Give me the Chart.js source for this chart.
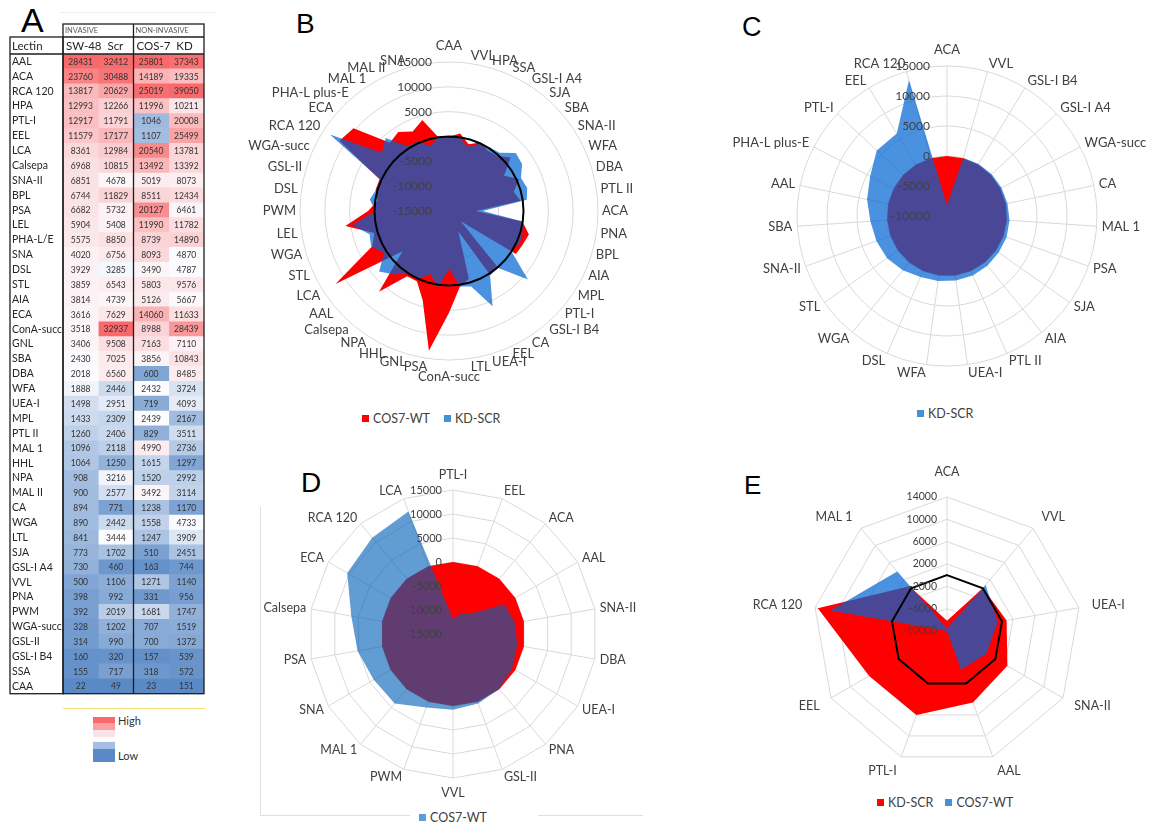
<!DOCTYPE html>
<html lang="en">
<head>
<meta charset="UTF-8">
<title>Lectin array comparison</title>
<script src="https://cdn.jsdelivr.net/npm/chart.js@4.4.1/dist/chart.umd.min.js"></script>
<style>
  body { margin: 0; background: #fff; font-family: Lato, "Liberation Sans", sans-serif; }
  #page { position: relative; width: 1156px; height: 827px; overflow: hidden; background: #fff; }
  .box { position: absolute; }
  .letter { position: absolute; font-family: "Liberation Sans", Arial, sans-serif; color: #000; line-height: 1; }
  .legend { position: absolute; font-size: 12.5px; color: #404040; white-space: nowrap; display: flex; align-items: center; }
  .legend i { display: inline-block; width: 7px; height: 7px; margin-right: 4px; }
  .rule { position: absolute; }
  .scale-key { position: absolute; left: 93px; width: 22px; }
</style>
</head>
<body>
<div id="page">
  <div class="rule" style="left:60px;top:12px;width:155px;height:1px;background:#ececec"></div>
  <div class="letter" style="left:21px;top:3px;font-size:34px">A</div>
  <div class="box" style="left:0;top:0;width:210px;height:700px"><canvas id="heat"></canvas></div>
  <div class="rule" style="left:63px;top:708px;width:142px;height:1px;background:#f3e27a"></div>
  <div class="scale-key" style="top:717px;height:6px;background:#f8696b"></div>
  <div class="scale-key" style="top:723px;height:7px;background:#f9a0a2"></div>
  <div class="scale-key" style="top:730px;height:7px;background:#fbe3e5"></div>
  <div class="scale-key" style="top:737px;height:5px;background:#fbfbfe"></div>
  <div class="scale-key" style="top:742px;height:7px;background:#a5bfe2"></div>
  <div class="scale-key" style="top:749px;height:13px;background:#5a8ac6"></div>
  <div class="legend" style="left:118px;top:714px;font-size:11px;color:#333">High</div>
  <div class="legend" style="left:118px;top:749px;font-size:11px;color:#333">Low</div>

  <div class="letter" style="left:296px;top:10px;font-size:28px">B</div>
  <div class="box" id="boxB"><canvas id="radarB"></canvas></div>
  <div class="legend" style="left:362px;top:411px"><i style="background:#ff0000"></i>COS7-WT<i style="background:#4492d6;margin-left:14px"></i>KD-SCR</div>

  <div class="letter" style="left:742px;top:14px;font-size:27px">C</div>
  <div class="box" id="boxC"><canvas id="radarC"></canvas></div>
  <div class="legend" style="left:917px;top:406px"><i style="background:#4492d6"></i>KD-SCR</div>

  <div class="rule" style="left:260px;top:507px;width:1px;height:308px;background:#e0e0e0"></div>
  <div class="rule" style="left:260px;top:815px;width:150px;height:1px;background:#e0e0e0"></div>
  <div class="rule" style="left:538px;top:815px;width:105px;height:1px;background:#e0e0e0"></div>
  <div class="letter" style="left:301px;top:469px;font-size:28px">D</div>
  <div class="box" id="boxD"><canvas id="radarD"></canvas></div>
  <div class="legend" style="left:419px;top:810px"><i style="background:#5f9dd6"></i>COS7-WT</div>

  <div class="letter" style="left:744px;top:472px;font-size:26px">E</div>
  <div class="box" id="boxE"><canvas id="radarE"></canvas></div>
  <div class="legend" style="left:877px;top:795px"><i style="background:#ff0000"></i>KD-SCR<i style="background:#4492d6;margin-left:12px"></i>COS7-WT</div>
</div>

<script>
// ---------- panel A: lectin signal table ----------
const lectins = ['AAL', 'ACA', 'RCA 120', 'HPA', 'PTL-I', 'EEL', 'LCA', 'Calsepa', 'SNA-II', 'BPL',
  'PSA', 'LEL', 'PHA-L/E', 'SNA', 'DSL', 'STL', 'AIA', 'ECA', 'ConA-succ', 'GNL',
  'SBA', 'DBA', 'WFA', 'UEA-I', 'MPL', 'PTL II', 'MAL 1', 'HHL', 'NPA', 'MAL II',
  'CA', 'WGA', 'LTL', 'SJA', 'GSL-I A4', 'VVL', 'PNA', 'PWM', 'WGA-succ', 'GSL-II',
  'GSL-I B4', 'SSA', 'CAA'];
const sw48 = [28431, 23760, 13817, 12993, 12917, 11579, 8361, 6968, 6851, 6744,
  6682, 5904, 5575, 4020, 3929, 3859, 3814, 3616, 3518, 3406,
  2430, 2018, 1888, 1498, 1433, 1260, 1096, 1064, 908, 900,
  894, 890, 841, 773, 730, 500, 398, 392, 328, 314,
  160, 155, 22];
const scr = [32412, 30488, 20629, 12266, 11791, 17177, 12984, 10815, 4678, 11829,
  5732, 5408, 8850, 6756, 3285, 6543, 4739, 7629, 32937, 9508,
  7025, 6560, 2446, 2951, 2309, 2406, 2118, 1250, 3216, 2577,
  771, 2442, 3444, 1702, 460, 1106, 992, 2019, 1202, 990,
  320, 717, 49];
const cos7 = [25801, 14189, 25019, 11996, 1046, 1107, 20540, 13492, 5019, 8511,
  20127, 11990, 8739, 8093, 3490, 5803, 5126, 14060, 8988, 7163,
  3856, 600, 2432, 719, 2439, 829, 4990, 1615, 1520, 3492,
  1238, 1558, 1247, 510, 163, 1271, 331, 1681, 707, 700,
  157, 318, 23];
const kd = [37343, 19335, 39050, 10211, 20008, 25499, 13781, 13392, 8073, 12434,
  6461, 11782, 14890, 4870, 4787, 9576, 5667, 11633, 28439, 7110,
  10843, 8485, 3724, 4093, 2167, 3511, 2736, 1297, 2992, 3114,
  1170, 4733, 3909, 2451, 744, 1140, 956, 1747, 1519, 1372,
  539, 572, 151];
const groupNames = ['INVASIVE', 'NON-INVASIVE'];
const columnNames = ['SW-48  Scr', 'COS-7  KD'];

// ---------- panel B: all 43 lectins (+ one empty category, as in the source sheet) ----------
const bLabels = ['CAA', 'VVL', 'HPA', 'SSA', 'GSL-I A4', 'SJA', 'SBA', 'SNA-II', 'WFA', 'DBA',
  'PTL II', 'ACA', 'PNA', 'BPL', 'AIA', 'MPL', 'PTL-I', 'GSL-I B4', 'CA', 'EEL',
  'UEA-I', 'LTL', 'ConA-succ', 'PSA', 'GNL', 'HHL', 'NPA', 'Calsepa', 'AAL', 'LCA',
  'STL', 'WGA', 'LEL', 'PWM', 'DSL', 'GSL-II', 'WGA-succ', 'RCA 120', 'ECA', 'PHA-L plus-E',
  'MAL 1', 'MAL II', 'SNA', ''];
const bCos7Wt = [1, 771, -997, 163, -567, -263, 1426, -1832, 544, -1418,
  -431, -9571, -67, 1767, 1312, 1006, -11871, -3, 344, -10472,
  -779, 406, 5470, 13445, 3757, 551, 612, 6524, -2630, 12179,
  1944, 668, 6086, 1289, -439, 386, 379, 11202, 10444, 3164,
  3894, 2592, 4073, 0];
const bKdScr = [75, 25, -1506, -106, 208, 549, 2799, 2489, 937, 1411,
  810, -8175, -26, 443, 680, -104, 6023, 161, 292, 6100,
  837, 341, -3297, 534, -1758, 34, -164, 1889, 3614, 584,
  2223, 1679, 4672, -199, 1101, 280, 232, 13500, 2935, 4427,
  453, 394, -1382, 0];
const bZero = [0, 0, 0, 0, 0, 0, 0, 0, 0, 0, 0, 0, 0, 0, 0, 0, 0, 0, 0, 0, 0, 0,
  0, 0, 0, 0, 0, 0, 0, 0, 0, 0, 0, 0, 0, 0, 0, 0, 0, 0, 0, 0, 0, 0];
const bTicks = [15000, 10000, 5000, -5000, -10000, -15000];

// ---------- panel C: KD-SCR, sorted ----------
const cLabels = ['ACA', 'VVL', 'GSL-I B4', 'GSL-I A4', 'WGA-succ', 'CA', 'MAL 1', 'PSA', 'SJA', 'AIA',
  'PTL II', 'UEA-I', 'WFA', 'DSL', 'WGA', 'STL', 'SNA-II', 'SBA', 'AAL', 'PHA-L plus-E',
  'PTL-I', 'EEL', 'RCA 120'];
const cKdScr = [-8175, 25, 161, 208, 232, 292, 453, 534, 549, 680,
  810, 837, 937, 1101, 1679, 2223, 2489, 2799, 3614, 4427,
  6023, 6100, 13500];
const cBase = [0, 0, 0, 0, 0, 0, 0, 0, 0, 0, 0, 0, 0, 0, 0, 0, 0, 0, 0, 0, 0, 0, 0];
const cTicks = [15000, 10000, 5000, 0, -5000, -10000];

// ---------- panel D: COS7-WT, sorted ----------
const dLabels = ['PTL-I', 'EEL', 'ACA', 'AAL', 'SNA-II', 'DBA', 'UEA-I', 'PNA', 'GSL-II', 'VVL',
  'PWM', 'MAL 1', 'SNA', 'PSA', 'Calsepa', 'ECA', 'RCA 120', 'LCA'];
const dCos7Wt = [-11871, -10472, -9571, -2630, -1832, -1418, -779, -67, 386, 771,
  1289, 3894, 4073, 5200, 6524, 10444, 11202, 12179];
const dBase = [0, 0, 0, 0, 0, 0, 0, 0, 0, 0, 0, 0, 0, 0, 0, 0, 0, 0];
const dTicks = [15000, 10000, 5000, 0, -5000, -10000, -15000];

// ---------- panel E: shared lectins ----------
const eLabels = ['ACA', 'VVL', 'UEA-I', 'SNA-II', 'AAL', 'PTL-I', 'EEL', 'RCA 120', 'MAL 1'];
const eKdScr = [-8175, 25, 837, 2489, 3614, 6023, 6100, 13500, 453];
const eCos7Wt = [-9571, 771, -779, -1832, -2630, -10000, -10000, 11202, 3894];
const eZero = [0, 0, 0, 0, 0, 0, 0, 0, 0];
const eTicks = [14000, 10000, 6000, 2000, -2000, -6000, -10000];

// ---------- heat map colours (3-colour scale per column, like Excel) ----------
const RED = [248, 105, 107], WHITE = [252, 252, 255], BLUE = [90, 138, 198];
function mix(a, b, t) {
  t = Math.max(0, Math.min(1, t));
  return 'rgb(' + a.map((v, i) => Math.round(v + (b[i] - v) * t)).join(',') + ')';
}
function scaleColours(vals) {
  const s = vals.slice().sort((a, b) => a - b);
  const lo = s[0], hi = s[s.length - 1];
  const p = (s.length - 1) / 2;
  const mid = s[Math.floor(p)] + (s[Math.ceil(p)] - s[Math.floor(p)]) * (p - Math.floor(p));
  return vals.map(v => v >= mid ? mix(WHITE, RED, (v - mid) / (hi - mid)) : mix(WHITE, BLUE, (mid - v) / (mid - lo)));
}

const tablePlugin = {
  id: 'table',
  afterDraw(chart) {
    const {ctx, chartArea: a, scales: {x}} = chart;
    ctx.save();
    ctx.font = '8.5px Lato, sans-serif';
    ctx.fillStyle = '#333';
    ctx.textAlign = 'center';
    ctx.textBaseline = 'middle';
    chart.data.datasets.forEach((ds, k) => {
      chart.getDatasetMeta(k).data.forEach((bar, i) => {
        ctx.fillText(ds.values[i], (bar.x + bar.base) / 2, bar.y + 0.5);
      });
    });

    const left = 10, top = 24, hdr = 37;
    const mid = x.getPixelForValue(2);
    ctx.strokeStyle = '#1e1e1e';
    ctx.lineWidth = 1.3;
    ctx.strokeRect(a.left, top, a.right - a.left, a.bottom - top);
    ctx.strokeRect(left, hdr, a.left - left, a.bottom - hdr);
    ctx.beginPath();
    ctx.moveTo(a.left, hdr); ctx.lineTo(a.right, hdr);
    ctx.moveTo(left, a.top); ctx.lineTo(a.right, a.top);
    ctx.moveTo(mid, top); ctx.lineTo(mid, a.bottom);
    ctx.stroke();

    ctx.textAlign = 'left';
    ctx.fillStyle = '#595959';
    ctx.font = '7.5px Lato, sans-serif';
    ctx.fillText(groupNames[0], a.left + 2, 31);
    ctx.fillText(groupNames[1], mid + 2, 31);
    ctx.fillStyle = '#262626';
    ctx.font = '11.5px Lato, sans-serif';
    ctx.fillText('Lectin', 12, 46);
    ctx.fillText(columnNames[0], a.left + 3, 46);
    ctx.fillText(columnNames[1], mid + 3, 46);
    ctx.restore();
  }
};

const columns = [sw48, scr, cos7, kd];
new Chart(document.getElementById('heat'), {
  type: 'bar',
  data: {
    labels: lectins,
    datasets: columns.map(vals => ({
      data: lectins.map(() => 1),
      values: vals,
      backgroundColor: scaleColours(vals),
      borderWidth: 0,
      barPercentage: 1,
      categoryPercentage: 1
    }))
  },
  options: {
    indexAxis: 'y',
    responsive: true,
    maintainAspectRatio: false,
    animation: false,
    layout: {padding: {top: 54, bottom: 3, left: 12, right: 6}},
    plugins: {legend: {display: false}, tooltip: {enabled: false}},
    scales: {
      x: {stacked: true, min: 0, max: 4, display: false},
      y: {
        stacked: true,
        grid: {display: false},
        border: {display: false},
        ticks: {crossAlign: 'far', autoSkip: false, padding: 0, color: '#262626', font: {family: 'Lato', size: 10.5}},
        afterFit(s) { s.width = 51; }
      }
    }
  },
  plugins: [tablePlugin]
});

// ---------- radar helpers ----------
// point labels: hug the outer ring like the spreadsheet does; top/bottom ones sit centred
function radarText(cfg) {
  return {
    id: 'radarText',
    afterDraw(chart) {
      const s = chart.scales.r, ctx = chart.ctx;
      ctx.save();
      ctx.fillStyle = '#404040';
      ctx.font = cfg.labelSize + 'px Lato, sans-serif';
      ctx.textBaseline = 'middle';
      chart.data.labels.forEach((text, i) => {
        if (!text) return;
        const ang = s.getIndexAngle(i);
        const p = s.getPointPosition(i, s.drawingArea + cfg.gap);
        const sin = Math.sin(ang), cos = Math.cos(ang);
        if (Math.abs(sin) < 0.03) {
          ctx.textAlign = 'center';
          ctx.fillText(text, p.x, p.y - cos * (cfg.labelSize / 2 + cfg.extra));
        } else {
          ctx.textAlign = sin > 0 ? 'left' : 'right';
          ctx.fillText(text, p.x, p.y - cos * cfg.lift);
        }
      });
      ctx.font = cfg.tickSize + 'px Lato, sans-serif';
      ctx.textAlign = 'right';
      cfg.ticks.forEach(v => {
        ctx.fillText(String(v), s.xCenter - cfg.tickGap, s.yCenter - s.getDistanceFromCenterForValue(v));
      });
      ctx.restore();
    }
  };
}

function radar(id, place, labels, datasets, o) {
  const box = document.getElementById('box' + id);
  Object.assign(box.style, {left: place.x + 'px', top: place.y + 'px', width: place.w + 'px', height: place.h + 'px'});
  const pad = {
    left: o.cx - o.r - place.x,
    top: o.cy - o.r - place.y,
    right: place.x + place.w - o.cx - o.r,
    bottom: place.y + place.h - o.cy - o.r
  };
  return new Chart(document.getElementById('radar' + id), {
    type: 'radar',
    data: {
      labels: labels,
      datasets: datasets.map(d => Object.assign({pointRadius: 0, pointHoverRadius: 0, borderWidth: 0, tension: 0, fill: 'start'}, d))
    },
    options: {
      responsive: true,
      maintainAspectRatio: false,
      animation: false,
      layout: {padding: pad},
      plugins: {legend: {display: false}, tooltip: {enabled: false}},
      scales: {
        r: {
          min: o.min, max: o.max,
          z: o.gridOnTop ? 1 : 0,
          ticks: {display: false, stepSize: o.step},
          pointLabels: {display: false},
          grid: {circular: o.circular, color: '#d9d9d9', lineWidth: 1},
          angleLines: {display: o.spokes, color: '#d9d9d9', lineWidth: 1}
        }
      }
    },
    plugins: [radarText(o.text)]
  });
}

const redFill = '#ff0000';
const blueOverlay = 'rgba(0, 101, 211, 0.71)';

radar('B', {x: 240, y: 30, w: 420, h: 375}, bLabels, [
  {label: 'COS7-WT', data: bCos7Wt, backgroundColor: redFill, order: 3},
  {label: 'KD-SCR', data: bKdScr, backgroundColor: blueOverlay, order: 2},
  {label: 'zero', data: bZero, borderColor: '#000', borderWidth: 2, backgroundColor: 'transparent', fill: false, order: 1}
], {cx: 449, cy: 211, r: 149, min: -15000, max: 15000, step: 5000, circular: true, spokes: false, gridOnTop: false,
  text: {labelSize: 13, gap: 4, lift: 4, extra: 6, tickSize: 12, tickGap: 17, ticks: bTicks}});

radar('C', {x: 700, y: 28, w: 456, h: 378}, cLabels, [
  {label: 'base', data: cBase, backgroundColor: redFill, order: 3},
  {label: 'KD-SCR', data: cKdScr, backgroundColor: blueOverlay, order: 2}
], {cx: 947, cy: 216, r: 150, min: -10000, max: 15000, step: 5000, circular: true, spokes: true, gridOnTop: true,
  text: {labelSize: 13, gap: 5, lift: 3, extra: 4.5, tickSize: 12, tickGap: 17, ticks: cTicks}});

radar('D', {x: 255, y: 455, w: 410, h: 350}, dLabels, [
  {label: 'base', data: dBase, backgroundColor: redFill, order: 3},
  {label: 'COS7-WT', data: dCos7Wt, backgroundColor: 'rgba(0, 97, 182, 0.62)', order: 2}
], {cx: 453, cy: 634, r: 144, min: -15000, max: 15000, step: 5000, circular: false, spokes: true, gridOnTop: true,
  text: {labelSize: 12.5, gap: 5, lift: 3, extra: 4, tickSize: 11, tickGap: 11, ticks: dTicks}});

radar('E', {x: 740, y: 455, w: 416, h: 340}, eLabels, [
  {label: 'KD-SCR', data: eKdScr, backgroundColor: redFill, order: 3},
  {label: 'COS7-WT', data: eCos7Wt, backgroundColor: blueOverlay, order: 2},
  {label: 'zero', data: eZero, borderColor: '#000', borderWidth: 2, backgroundColor: 'transparent', fill: false, order: 1}
], {cx: 947, cy: 631, r: 134, min: -10000, max: 14000, step: 4000, circular: false, spokes: true, gridOnTop: true,
  text: {labelSize: 12.5, gap: 13, lift: 2, extra: 5.5, tickSize: 10.5, tickGap: 10, ticks: eTicks}});
</script>
</body>
</html>
